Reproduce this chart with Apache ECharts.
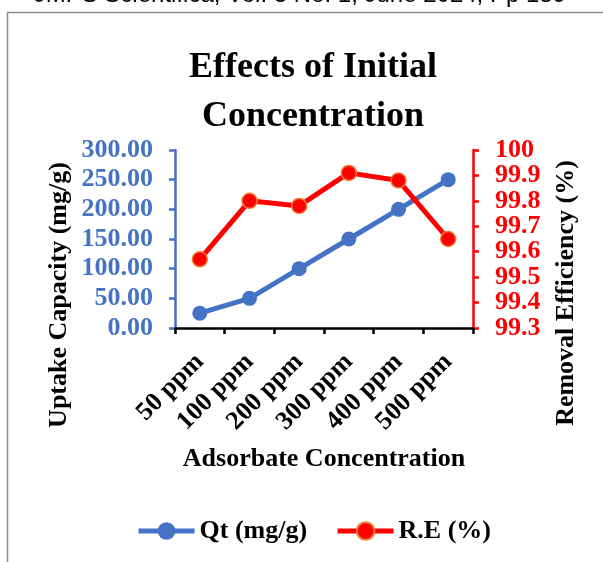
<!DOCTYPE html>
<html>
<head>
<meta charset="utf-8">
<script src="https://cdn.jsdelivr.net/npm/echarts@6/dist/echarts.min.js"></script>
<style>html,body{margin:0;padding:0;background:#fff;}#c{width:603px;height:562px;}</style>
</head>
<body>
<div id="c"></div>
<script>
const categories = ['50 ppm', '100 ppm', '200 ppm', '300 ppm', '400 ppm', '500 ppm'];
const qtValues = [25, 50, 100, 150, 200, 250];
const reValues = [99.57, 99.80, 99.78, 99.91, 99.88, 99.65];
const titleText = 'Effects of Initial\nConcentration';
const xName = 'Adsorbate Concentration';
const yLeftName = 'Uptake Capacity (mg/g)';
const yRightName = 'Removal Efficiency (%)';
const headerText = 'JMPS Scientifica, Vol. 3 No. 1, June 2024, Pp 189';

const FONT = '"Liberation Serif", "Times New Roman", serif';
const BLUE = '#4472C4';
const RED = '#FF0000';
const reMin = 99.3, reMax = 100;
const fmtRE = v => String(parseFloat(Number(v).toFixed(1)));
const isEnd = v => Math.abs(v - reMin) < 1e-6 || Math.abs(v - reMax) < 1e-6;

const rightLabelStyle = {margin: 22, showMinLabel: true, showMaxLabel: true, fontFamily: FONT, fontWeight: 'bold', fontSize: 26, color: RED};

const chart = echarts.init(document.getElementById('c'), null, {renderer: 'canvas'});
chart.setOption({
  backgroundColor: '#fff',
  animation: false,
  title: {
    text: titleText,
    left: 308,
    textAlign: 'center',
    top: 38,
    textStyle: {fontFamily: FONT, fontWeight: 'bold', fontSize: 36, lineHeight: 49, color: '#000'}
  },
  grid: {left: 175, right: 130, top: 150, bottom: 234, containLabel: false},
  legend: {
    bottom: 13,
    left: 131,
    itemWidth: 56,
    itemHeight: 22,
    itemGap: 28,
    lineStyle: {width: 5},
    textStyle: {fontFamily: FONT, fontWeight: 'bold', fontSize: 26, color: '#000'},
    data: ['Qt (mg/g)', 'R.E (%)']
  },
  xAxis: {
    type: 'category',
    data: categories,
    boundaryGap: true,
    axisLine: {lineStyle: {color: '#000', width: 2.5}},
    axisTick: {show: true, length: 6, lineStyle: {color: '#000', width: 2.5}},
    axisLabel: {rotate: 45, margin: 30, interval: 0, fontFamily: FONT, fontWeight: 'bold', fontSize: 26, color: '#000'},
    splitLine: {show: false}
  },
  yAxis: [
    {
      type: 'value', min: 0, max: 300, interval: 50, position: 'left',
      axisLine: {show: true, lineStyle: {color: BLUE, width: 2.5}},
      axisTick: {show: true, length: 6, lineStyle: {color: BLUE, width: 2.5}},
      axisLabel: {margin: 22, showMinLabel: true, showMaxLabel: true, fontFamily: FONT, fontWeight: 'bold', fontSize: 26, color: BLUE,
        formatter: v => v.toFixed(2)},
      splitLine: {show: false}
    },
    {
      type: 'value', min: reMin, max: reMax, interval: 0.1, position: 'right',
      axisLine: {show: true, lineStyle: {color: RED, width: 2.5}},
      axisTick: {show: true, length: 6, lineStyle: {color: RED, width: 2.5}},
      axisLabel: Object.assign({}, rightLabelStyle, {formatter: v => isEnd(v) ? fmtRE(v) : ''}),
      splitLine: {show: false}
    },
    {
      type: 'value', min: reMin, max: reMax, interval: 0.1, position: 'right',
      axisLine: {show: false},
      axisTick: {show: false},
      axisLabel: Object.assign({}, rightLabelStyle, {formatter: v => isEnd(v) ? '' : fmtRE(v)}),
      splitLine: {show: false}
    }
  ],
  series: [
    {
      name: 'Qt (mg/g)', type: 'line', yAxisIndex: 0, data: qtValues,
      symbol: 'circle', symbolSize: 15,
      lineStyle: {color: BLUE, width: 5},
      itemStyle: {color: BLUE, borderColor: BLUE, borderWidth: 0}
    },
    {
      name: 'R.E (%)', type: 'line', yAxisIndex: 1, data: reValues,
      symbol: 'circle', symbolSize: 15,
      lineStyle: {color: RED, width: 5},
      itemStyle: {color: RED, borderColor: '#ED7D31', borderWidth: 1.5}
    }
  ],
  graphic: [
    {type: 'line', shape: {x1: 7.5, y1: 12, x2: 7.5, y2: 562}, style: {stroke: '#8a8a8a', lineWidth: 1.5}},
    {type: 'line', shape: {x1: 7, y1: 12.5, x2: 603, y2: 12.5}, style: {stroke: '#8a8a8a', lineWidth: 1.5}},
    {type: 'text', x: 566, y: 7, style: {text: headerText, fill: '#000', font: '24px "Liberation Sans", sans-serif', textAlign: 'right', textVerticalAlign: 'bottom'}},
    {type: 'text', x: 324, y: 459, style: {text: xName, fill: '#000', font: 'bold 26px ' + FONT, textAlign: 'center', textVerticalAlign: 'middle'}},
    {type: 'text', x: 59, y: 295, rotation: Math.PI / 2, style: {text: yLeftName, fill: '#000', font: 'bold 26px ' + FONT, textAlign: 'center', textVerticalAlign: 'middle'}},
    {type: 'text', x: 566, y: 293, rotation: Math.PI / 2, style: {text: yRightName, fill: '#000', font: 'bold 26px ' + FONT, textAlign: 'center', textVerticalAlign: 'middle'}}
  ]
});
</script>
</body>
</html>
